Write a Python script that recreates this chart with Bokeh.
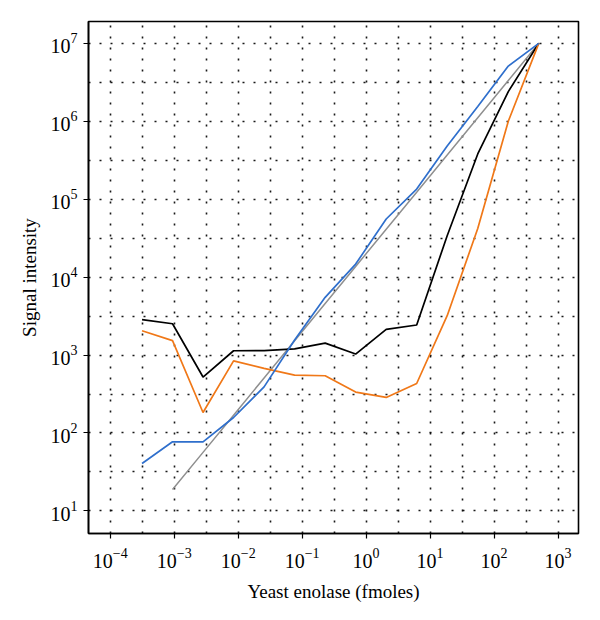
from bokeh.plotting import figure
from bokeh.models import FixedTicker, LogTickFormatter, Range1d
from bokeh.embed import file_html
from bokeh.resources import INLINE

# Yeast enolase amounts (fmoles), 1/3 dilution series
enolase = [0.000314, 0.000941, 0.00282, 0.00847, 0.0254, 0.0762, 0.229,
           0.686, 2.06, 6.17, 18.5, 55.6, 167, 500]

black_vals = [2840, 2520, 522, 1135, 1140, 1200, 1420, 1030, 2130, 2430,
              34000, 380000, 2400000, 10000000]
orange_vals = [2050, 1530, 183, 840, 673, 553, 542, 335, 286, 431,
               3200, 42000, 1000000, 10000000]
blue_vals = [40.6, 77, 77, 158, 390, 1560, 5500, 14700, 55700, 135000,
             480000, 1550000, 5100000, 10000000]
# ideal (linear) response, starts at second dilution
gray_x = enolase[1:]
gray_vals = [18.8, 56.4, 169, 508, 1524, 4580, 13700, 41200, 123000, 370000,
             1110000, 3340000, 10000000]

x_decades = [-4, -3, -2, -1, 0, 1, 2, 3]
y_decades = [1, 2, 3, 4, 5, 6, 7]

p = figure(width=598, height=612, x_axis_type="log", y_axis_type="log",
           output_backend="svg", toolbar_location=None,
           x_range=Range1d(10 ** -4.34, 10 ** 3.32),
           y_range=Range1d(10 ** 0.71, 10 ** 7.28),
           min_border_left=88, min_border_right=20,
           min_border_top=21, min_border_bottom=79)

p.background_fill_color = "white"
p.border_fill_color = "white"
p.outline_line_color = "black"
p.outline_line_width = 1.6

FONT = "Liberation Serif"

p.xaxis.ticker = FixedTicker(ticks=[10.0 ** e for e in x_decades])
p.yaxis.ticker = FixedTicker(ticks=[10.0 ** e for e in y_decades])
p.xaxis.formatter = LogTickFormatter()
p.yaxis.formatter = LogTickFormatter()
for ax in (p.xaxis[0], p.yaxis[0]):
    ax.axis_line_color = "black"
    ax.axis_line_width = 1.6
    ax.major_tick_line_color = "black"
    ax.major_tick_line_width = 1.2
    ax.major_tick_out = 5
    ax.major_tick_in = 0
    ax.minor_tick_line_color = None
    ax.major_label_text_font = FONT
    ax.major_label_text_font_size = "20px"
    ax.major_label_text_color = "black"
    ax.axis_label_text_font = FONT
    ax.axis_label_text_font_size = "19px"
    ax.axis_label_text_font_style = "normal"
    ax.axis_label_text_color = "black"

p.xaxis.axis_label = "Yeast enolase (fmoles)"
p.yaxis.axis_label = "Signal intensity"
p.xaxis.major_label_standoff = 9
p.yaxis.major_label_standoff = 6
p.xaxis.axis_label_standoff = 10
p.yaxis.axis_label_standoff = 8

xg = [10.0 ** (e / 2) for e in range(-9, 8)]
yg = [10.0 ** (e / 2) for e in range(1, 16)]
p.xgrid.ticker = FixedTicker(ticks=xg)
p.ygrid.ticker = FixedTicker(ticks=yg)
for g in (p.xgrid[0], p.ygrid[0]):
    g.grid_line_color = "black"
    g.grid_line_width = 1.6
    g.grid_line_dash = "2 9"
    g.grid_line_alpha = 0.9

p.line(gray_x, gray_vals, line_color="#8f8f8f", line_width=1.5)
p.line(enolase, black_vals, line_color="black", line_width=1.7)
p.line(enolase, orange_vals, line_color="#f07818", line_width=1.7)
p.line(enolase, blue_vals, line_color="#2f6fcc", line_width=1.7)

open("out.html", "w").write(file_html(p, INLINE))
